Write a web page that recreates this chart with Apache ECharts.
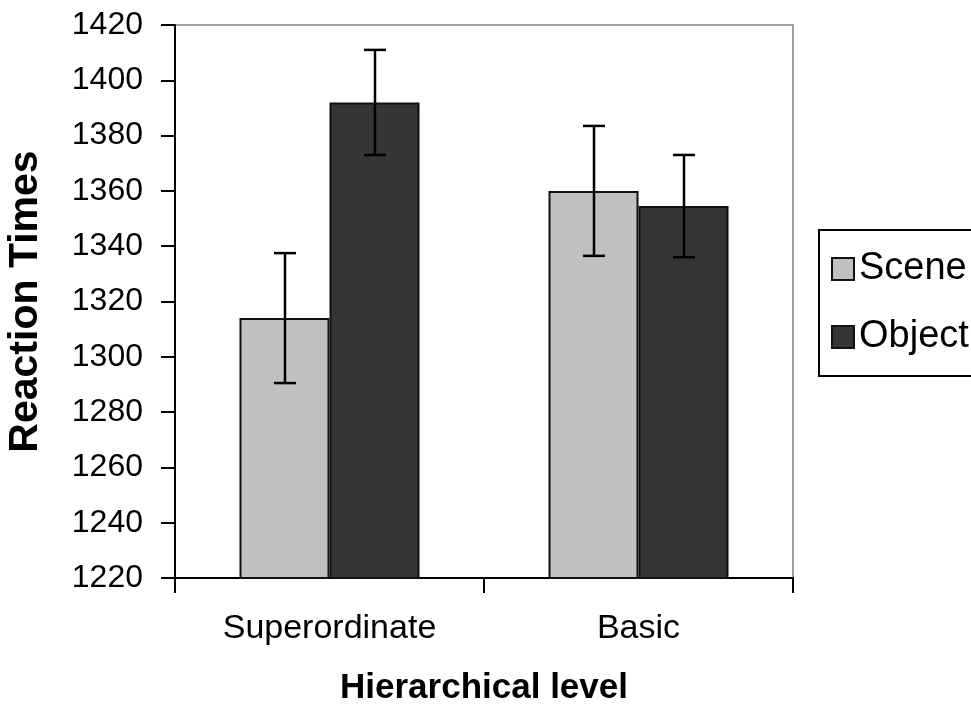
<!DOCTYPE html>
<html>
<head>
<meta charset="utf-8">
<script src="https://cdn.jsdelivr.net/npm/echarts@6/dist/echarts.min.js"></script>
<style>
html,body{margin:0;padding:0;background:#fff;}
#chart{width:971px;height:713px;}
</style>
</head>
<body>
<div id="chart"></div>
<script>
var categories = ['Superordinate', 'Basic'];
var seriesNames = ['Scene', 'Object'];
var sceneMeans = [1314, 1360];
var sceneErr = [23.5, 23.5];
var objectMeans = [1392, 1354.5];
var objectErr = [19, 18.5];
var yTicks = [1220, 1240, 1260, 1280, 1300, 1320, 1340, 1360, 1380, 1400, 1420];

var FONT = '"Liberation Sans", Arial, Helvetica, sans-serif';
var BAR_W = 90;
var CAP_W = 22;

function errData(means, errs) {
  return means.map(function (m, i) { return [i, m - errs[i], m + errs[i]]; });
}

function errSeries(means, errs, sign) {
  return {
    type: 'custom',
    silent: true,
    z: 10,
    encode: { x: 0, y: [1, 2] },
    data: errData(means, errs),
    renderItem: function (params, api) {
      var x = api.value(0), lo = api.value(1), hi = api.value(2);
      var pLo = api.coord([x, lo]);
      var pHi = api.coord([x, hi]);
      var cx = Math.round(pLo[0] + sign * BAR_W / 2);
      var h = CAP_W / 2;
      var st = { stroke: '#000', lineWidth: 2.5 };
      return {
        type: 'group',
        children: [
          { type: 'line', shape: { x1: cx, y1: pHi[1], x2: cx, y2: pLo[1] }, style: st },
          { type: 'line', shape: { x1: cx - h, y1: pHi[1], x2: cx + h, y2: pHi[1] }, style: st },
          { type: 'line', shape: { x1: cx - h, y1: pLo[1], x2: cx + h, y2: pLo[1] }, style: st }
        ]
      };
    }
  };
}

var chart = echarts.init(document.getElementById('chart'), null, { renderer: 'canvas' });
chart.setOption({
  animation: false,
  backgroundColor: '#fff',
  textStyle: { fontFamily: FONT, color: '#000' },
  grid: {
    left: 175, right: 178, top: 25, bottom: 135,
    containLabel: false,
    outerBoundsMode: 'none',
    show: true, borderColor: '#a0a0a0', borderWidth: 2, backgroundColor: 'transparent'
  },
  legend: {
    orient: 'vertical',
    left: 819, top: 230,
    padding: [20, 80, 20, 12],
    itemGap: 30,
    itemWidth: 22, itemHeight: 22,
    icon: 'rect',
    borderColor: '#000', borderWidth: 2,
    data: seriesNames,
    textStyle: { fontFamily: FONT, fontSize: 38, color: '#000', lineHeight: 36 }
  },
  xAxis: {
    type: 'category',
    data: categories,
    boundaryGap: true,
    axisLine: { lineStyle: { color: '#000', width: 2 } },
    axisTick: { show: true, length: 15, lineStyle: { color: '#000', width: 2 } },
    axisLabel: { fontFamily: FONT, fontSize: 34, color: '#000', margin: 34 },
    name: 'Hierarchical level',
    nameLocation: 'middle',
    nameGap: 93,
    nameTextStyle: { fontFamily: FONT, fontSize: 35, fontWeight: 'bold', color: '#000' },
    splitLine: { show: false }
  },
  yAxis: {
    type: 'value',
    min: yTicks[0], max: yTicks[yTicks.length - 1], interval: yTicks[1] - yTicks[0],
    axisLine: { show: true, lineStyle: { color: '#000', width: 2 } },
    axisTick: { show: true, length: 14, lineStyle: { color: '#000', width: 2 } },
    axisLabel: {
      fontFamily: FONT, fontSize: 32, color: '#000', margin: 32,
      formatter: function (v) { return String(v); }
    },
    splitLine: { show: false },
    name: 'Reaction Times',
    nameLocation: 'middle',
    nameGap: 129,
    nameRotate: 90,
    nameTextStyle: { fontFamily: FONT, fontSize: 41, fontWeight: 'bold', color: '#000' }
  },
  series: [
    {
      name: seriesNames[0], type: 'bar', data: sceneMeans,
      barWidth: BAR_W, barGap: '0%',
      itemStyle: { color: '#c0c0c0', borderColor: '#111', borderWidth: 2 }
    },
    {
      name: seriesNames[1], type: 'bar', data: objectMeans,
      barWidth: BAR_W, barGap: '0%',
      itemStyle: { color: '#353535', borderColor: '#111', borderWidth: 2 }
    },
    errSeries(sceneMeans, sceneErr, -1),
    errSeries(objectMeans, objectErr, 1)
  ]
});
</script>
</body>
</html>
